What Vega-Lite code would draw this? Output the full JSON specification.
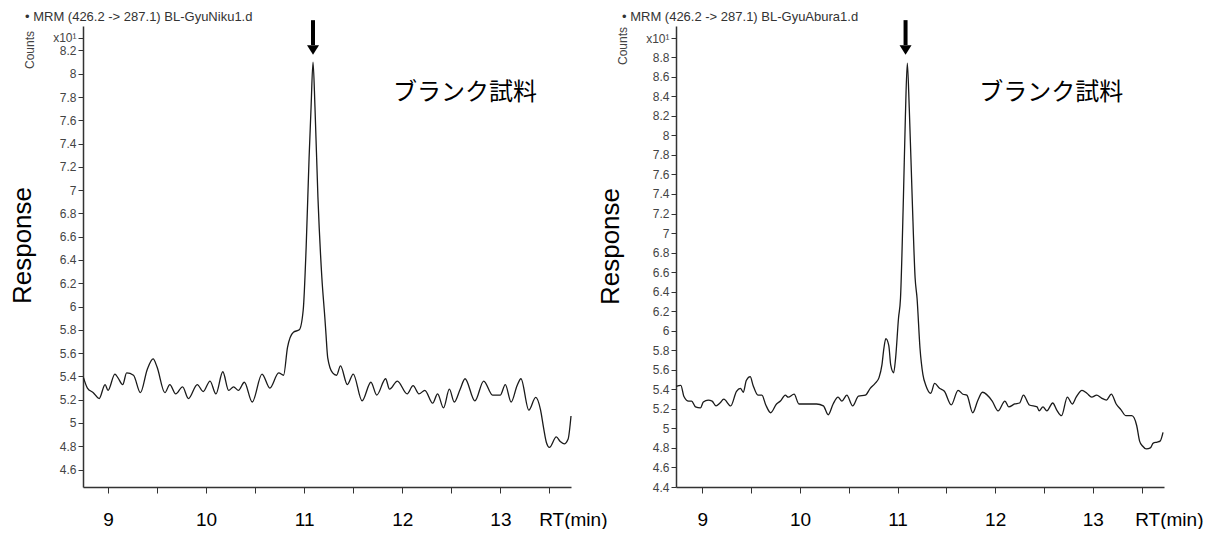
{
  "$schema": "https://vega.github.io/schema/vega-lite/v6.json",
  "background": "white",
  "padding": {"left": 9, "top": 11, "right": 14, "bottom": 0},
  "config": {
    "font": "Liberation Sans",
    "view": {"stroke": null},
    "axis": {"grid": false, "domainColor": "#333", "tickColor": "#333", "domainWidth": 1.5, "tickWidth": 1}
  },
  "bounds": "flush",
  "spacing": 105,
  "datasets": {
    "traceL": [
      {"rt": 8.75, "v": 5.39}, {"rt": 8.79, "v": 5.30}, {"rt": 8.85, "v": 5.26}, {"rt": 8.91, "v": 5.21}, {"rt": 8.97, "v": 5.33},
      {"rt": 9.00, "v": 5.28}, {"rt": 9.07, "v": 5.42}, {"rt": 9.10, "v": 5.39}, {"rt": 9.15, "v": 5.33}, {"rt": 9.19, "v": 5.43},
      {"rt": 9.26, "v": 5.41}, {"rt": 9.33, "v": 5.26}, {"rt": 9.40, "v": 5.46}, {"rt": 9.46, "v": 5.55}, {"rt": 9.50, "v": 5.48},
      {"rt": 9.58, "v": 5.26}, {"rt": 9.63, "v": 5.33}, {"rt": 9.69, "v": 5.25}, {"rt": 9.76, "v": 5.31}, {"rt": 9.82, "v": 5.21},
      {"rt": 9.91, "v": 5.33}, {"rt": 9.97, "v": 5.27}, {"rt": 10.04, "v": 5.36}, {"rt": 10.10, "v": 5.25}, {"rt": 10.17, "v": 5.44},
      {"rt": 10.23, "v": 5.28}, {"rt": 10.28, "v": 5.31}, {"rt": 10.33, "v": 5.28}, {"rt": 10.39, "v": 5.35}, {"rt": 10.47, "v": 5.18},
      {"rt": 10.57, "v": 5.42}, {"rt": 10.65, "v": 5.30}, {"rt": 10.74, "v": 5.43}, {"rt": 10.79, "v": 5.41}, {"rt": 10.83, "v": 5.65},
      {"rt": 10.89, "v": 5.78}, {"rt": 10.95, "v": 5.80}, {"rt": 10.99, "v": 5.97}, {"rt": 11.02, "v": 6.51}, {"rt": 11.05, "v": 7.28},
      {"rt": 11.07, "v": 7.71}, {"rt": 11.09, "v": 8.10}, {"rt": 11.11, "v": 7.71}, {"rt": 11.14, "v": 6.94}, {"rt": 11.18, "v": 6.25},
      {"rt": 11.21, "v": 5.91}, {"rt": 11.22, "v": 5.79}, {"rt": 11.24, "v": 5.56}, {"rt": 11.29, "v": 5.43}, {"rt": 11.33, "v": 5.41},
      {"rt": 11.37, "v": 5.49}, {"rt": 11.44, "v": 5.33}, {"rt": 11.50, "v": 5.42}, {"rt": 11.59, "v": 5.19}, {"rt": 11.68, "v": 5.35},
      {"rt": 11.74, "v": 5.24}, {"rt": 11.83, "v": 5.38}, {"rt": 11.87, "v": 5.29}, {"rt": 11.95, "v": 5.36}, {"rt": 12.05, "v": 5.25},
      {"rt": 12.11, "v": 5.32}, {"rt": 12.17, "v": 5.25}, {"rt": 12.23, "v": 5.28}, {"rt": 12.31, "v": 5.17}, {"rt": 12.36, "v": 5.25},
      {"rt": 12.42, "v": 5.13}, {"rt": 12.48, "v": 5.29}, {"rt": 12.53, "v": 5.18}, {"rt": 12.59, "v": 5.29}, {"rt": 12.64, "v": 5.38},
      {"rt": 12.74, "v": 5.19}, {"rt": 12.83, "v": 5.36}, {"rt": 12.92, "v": 5.24}, {"rt": 13.00, "v": 5.24}, {"rt": 13.05, "v": 5.33},
      {"rt": 13.11, "v": 5.18}, {"rt": 13.17, "v": 5.32}, {"rt": 13.21, "v": 5.38}, {"rt": 13.29, "v": 5.11}, {"rt": 13.36, "v": 5.22},
      {"rt": 13.41, "v": 5.11}, {"rt": 13.44, "v": 4.96}, {"rt": 13.47, "v": 4.83}, {"rt": 13.50, "v": 4.79}, {"rt": 13.57, "v": 4.88},
      {"rt": 13.61, "v": 4.84}, {"rt": 13.65, "v": 4.82}, {"rt": 13.69, "v": 4.86}, {"rt": 13.72, "v": 5.06}
    ],
    "traceR": [
      {"rt": 8.73, "v": 5.43}, {"rt": 8.78, "v": 5.44}, {"rt": 8.81, "v": 5.33}, {"rt": 8.86, "v": 5.28}, {"rt": 8.89, "v": 5.28},
      {"rt": 8.93, "v": 5.22}, {"rt": 8.98, "v": 5.21}, {"rt": 9.01, "v": 5.27}, {"rt": 9.06, "v": 5.29}, {"rt": 9.10, "v": 5.28},
      {"rt": 9.14, "v": 5.23}, {"rt": 9.18, "v": 5.26}, {"rt": 9.22, "v": 5.30}, {"rt": 9.29, "v": 5.23}, {"rt": 9.35, "v": 5.38},
      {"rt": 9.39, "v": 5.41}, {"rt": 9.42, "v": 5.37}, {"rt": 9.45, "v": 5.49}, {"rt": 9.49, "v": 5.53}, {"rt": 9.52, "v": 5.44},
      {"rt": 9.57, "v": 5.34}, {"rt": 9.61, "v": 5.34}, {"rt": 9.65, "v": 5.24}, {"rt": 9.70, "v": 5.16}, {"rt": 9.76, "v": 5.25},
      {"rt": 9.80, "v": 5.28}, {"rt": 9.85, "v": 5.34}, {"rt": 9.88, "v": 5.32}, {"rt": 9.94, "v": 5.35}, {"rt": 9.99, "v": 5.25},
      {"rt": 10.04, "v": 5.25}, {"rt": 10.10, "v": 5.25}, {"rt": 10.17, "v": 5.25}, {"rt": 10.24, "v": 5.23}, {"rt": 10.29, "v": 5.14},
      {"rt": 10.34, "v": 5.25}, {"rt": 10.39, "v": 5.32}, {"rt": 10.43, "v": 5.28}, {"rt": 10.48, "v": 5.34}, {"rt": 10.54, "v": 5.23},
      {"rt": 10.60, "v": 5.33}, {"rt": 10.67, "v": 5.34}, {"rt": 10.72, "v": 5.41}, {"rt": 10.77, "v": 5.46}, {"rt": 10.81, "v": 5.52},
      {"rt": 10.84, "v": 5.65}, {"rt": 10.86, "v": 5.82}, {"rt": 10.88, "v": 5.92}, {"rt": 10.91, "v": 5.85}, {"rt": 10.93, "v": 5.65},
      {"rt": 10.96, "v": 5.57}, {"rt": 10.98, "v": 5.72}, {"rt": 11.01, "v": 6.13}, {"rt": 11.03, "v": 6.33}, {"rt": 11.06, "v": 7.36},
      {"rt": 11.08, "v": 8.18}, {"rt": 11.10, "v": 8.74}, {"rt": 11.12, "v": 8.28}, {"rt": 11.15, "v": 7.36}, {"rt": 11.18, "v": 6.54},
      {"rt": 11.20, "v": 6.33}, {"rt": 11.23, "v": 5.82}, {"rt": 11.26, "v": 5.55}, {"rt": 11.29, "v": 5.44}, {"rt": 11.34, "v": 5.36},
      {"rt": 11.38, "v": 5.46}, {"rt": 11.43, "v": 5.41}, {"rt": 11.48, "v": 5.38}, {"rt": 11.55, "v": 5.24}, {"rt": 11.62, "v": 5.39},
      {"rt": 11.67, "v": 5.35}, {"rt": 11.71, "v": 5.34}, {"rt": 11.77, "v": 5.16}, {"rt": 11.82, "v": 5.28}, {"rt": 11.87, "v": 5.37},
      {"rt": 11.97, "v": 5.28}, {"rt": 12.03, "v": 5.18}, {"rt": 12.10, "v": 5.28}, {"rt": 12.14, "v": 5.22}, {"rt": 12.20, "v": 5.25},
      {"rt": 12.25, "v": 5.26}, {"rt": 12.29, "v": 5.34}, {"rt": 12.35, "v": 5.24}, {"rt": 12.43, "v": 5.22}, {"rt": 12.45, "v": 5.18},
      {"rt": 12.49, "v": 5.22}, {"rt": 12.53, "v": 5.18}, {"rt": 12.59, "v": 5.26}, {"rt": 12.63, "v": 5.19}, {"rt": 12.68, "v": 5.13},
      {"rt": 12.74, "v": 5.32}, {"rt": 12.79, "v": 5.25}, {"rt": 12.83, "v": 5.32}, {"rt": 12.89, "v": 5.39}, {"rt": 12.94, "v": 5.36},
      {"rt": 12.99, "v": 5.32}, {"rt": 13.04, "v": 5.34}, {"rt": 13.09, "v": 5.31}, {"rt": 13.14, "v": 5.29}, {"rt": 13.19, "v": 5.35},
      {"rt": 13.24, "v": 5.25}, {"rt": 13.29, "v": 5.19}, {"rt": 13.34, "v": 5.13}, {"rt": 13.40, "v": 5.13}, {"rt": 13.45, "v": 5.03},
      {"rt": 13.48, "v": 4.87}, {"rt": 13.51, "v": 4.82}, {"rt": 13.55, "v": 4.79}, {"rt": 13.59, "v": 4.80}, {"rt": 13.62, "v": 4.85},
      {"rt": 13.66, "v": 4.86}, {"rt": 13.69, "v": 4.87}, {"rt": 13.72, "v": 4.96}
    ],
    "arrowL": [{"rt": 11.09, "top": 8.46, "base": 8.247, "head": 8.204}],
    "arrowR": [{"rt": 11.082, "top": 9.18, "base": 8.925, "head": 8.874}],
    "countsL": [{"rt": 8.204, "v": 8.204, "label": "Counts"}],
    "countsR": [{"rt": 8.188, "v": 8.915, "label": "Counts"}],
    "sampleL": [{"rt": 12.64, "v": 7.834, "label": "ブランク試料"}],
    "sampleR": [{"rt": 12.575, "v": 8.434, "label": "ブランク試料"}]
  },
  "hconcat": [
    {
      "width": 488,
      "height": 461,
      "title": {"text": "• MRM (426.2 -> 287.1) BL-GyuNiku1.d", "anchor": "start", "frame": "group", "dx": -58, "fontSize": 13, "fontWeight": "normal", "color": "#333", "offset": -6},
      "layer": [
        {
          "data": {"name": "traceL"},
          "mark": {"type": "line", "color": "#1a1a1a", "strokeWidth": 1.3, "interpolate": "monotone"},
          "encoding": {
            "x": {"field": "rt", "type": "quantitative", "scale": {"domain": [8.745, 13.72], "nice": false, "zero": false},
              "axis": {"values": [9, 9.5, 10, 10.5, 11, 11.5, 12, 12.5, 13, 13.5], "tickCount": 50, "labelExpr": "datum.value % 1 === 0 ? format(datum.value, 'd') : ''",
                "title": "RT(min)", "titleX": 524, "titleY": 23, "titleAlign": "right", "titleBaseline": "top", "titleFontSize": 19, "titleFontWeight": "normal", "titleColor": "black",
                "labelFontSize": 19, "labelColor": "black", "tickSize": 6, "labelPadding": 17, "labelFlush": false, "labelOverlap": false}},
            "y": {"field": "v", "type": "quantitative", "scale": {"domain": [4.45, 8.41], "nice": false, "zero": false},
              "axis": {"values": [4.6, 4.8, 5, 5.2, 5.4, 5.6, 5.8, 6, 6.2, 6.4, 6.6, 6.8, 7, 7.2, 7.4, 7.6, 7.8, 8, 8.2, 8.31], "tickCount": 50,
                "labelExpr": "datum.value > 8.25 ? 'x10¹' : format(datum.value, '~g')",
                "title": "Response", "titleFontSize": 26, "titleFontWeight": "normal", "titleColor": "black", "titleX": -61, "titleY": 219, "titleAngle": 270, "titleAlign": "center", "titleBaseline": "middle",
                "labelFontSize": 12, "labelColor": "#444", "tickSize": 5, "labelPadding": 2, "labelOverlap": false, "labelFlush": false}}
          }
        },
        {
          "data": {"name": "arrowL"},
          "mark": {"type": "rule", "color": "black", "strokeWidth": 4},
          "encoding": {
            "x": {"field": "rt", "type": "quantitative", "scale": {"domain": [8.745, 13.72], "nice": false, "zero": false}},
            "y": {"field": "top", "type": "quantitative", "scale": {"domain": [4.45, 8.41], "nice": false, "zero": false}},
            "y2": {"field": "base"}
          }
        },
        {
          "data": {"name": "arrowL"},
          "mark": {"type": "point", "shape": "M-1,-0.8L1,-0.8L0,0.8Z", "filled": true, "size": 144, "color": "black", "opacity": 1},
          "encoding": {
            "x": {"field": "rt", "type": "quantitative", "scale": {"domain": [8.745, 13.72], "nice": false, "zero": false}},
            "y": {"field": "head", "type": "quantitative", "scale": {"domain": [4.45, 8.41], "nice": false, "zero": false}}
          }
        },
        {
          "data": {"name": "countsL"},
          "mark": {"type": "text", "angle": 270, "fontSize": 12, "color": "#444", "align": "center", "baseline": "middle"},
          "encoding": {
            "x": {"field": "rt", "type": "quantitative", "scale": {"domain": [8.745, 13.72], "nice": false, "zero": false}},
            "y": {"field": "v", "type": "quantitative", "scale": {"domain": [4.45, 8.41], "nice": false, "zero": false}},
            "text": {"field": "label"}
          }
        },
        {
          "data": {"name": "sampleL"},
          "mark": {"type": "text", "font": "Noto Sans CJK JP", "fontSize": 24, "color": "black", "align": "center", "baseline": "middle"},
          "encoding": {
            "x": {"field": "rt", "type": "quantitative", "scale": {"domain": [8.745, 13.72], "nice": false, "zero": false}},
            "y": {"field": "v", "type": "quantitative", "scale": {"domain": [4.45, 8.41], "nice": false, "zero": false}},
            "text": {"field": "label"}
          }
        }
      ]
    },
    {
      "width": 488,
      "height": 461,
      "title": {"text": "• MRM (426.2 -> 287.1) BL-GyuAbura1.d", "anchor": "start", "frame": "group", "dx": -54, "fontSize": 13, "fontWeight": "normal", "color": "#333", "offset": -6},
      "layer": [
        {
          "data": {"name": "traceR"},
          "mark": {"type": "line", "color": "#1a1a1a", "strokeWidth": 1.3, "interpolate": "monotone"},
          "encoding": {
            "x": {"field": "rt", "type": "quantitative", "scale": {"domain": [8.73, 13.73], "nice": false, "zero": false},
              "axis": {"values": [9, 9.5, 10, 10.5, 11, 11.5, 12, 12.5, 13, 13.5], "tickCount": 50, "labelExpr": "datum.value % 1 === 0 ? format(datum.value, 'd') : ''",
                "title": "RT(min)", "titleX": 527, "titleY": 23, "titleAlign": "right", "titleBaseline": "top", "titleFontSize": 19, "titleFontWeight": "normal", "titleColor": "black",
                "labelFontSize": 19, "labelColor": "black", "tickSize": 6, "labelPadding": 17, "labelFlush": false, "labelOverlap": false}},
            "y": {"field": "v", "type": "quantitative", "scale": {"domain": [4.4, 9.12], "nice": false, "zero": false},
              "axis": {"values": [4.4, 4.6, 4.8, 5, 5.2, 5.4, 5.6, 5.8, 6, 6.2, 6.4, 6.6, 6.8, 7, 7.2, 7.4, 7.6, 7.8, 8, 8.2, 8.4, 8.6, 8.8, 8.997], "tickCount": 50,
                "labelExpr": "datum.value > 8.9 ? 'x10¹' : format(datum.value, '~g')",
                "title": "Response", "titleFontSize": 26, "titleFontWeight": "normal", "titleColor": "black", "titleX": -66, "titleY": 220, "titleAngle": 270, "titleAlign": "center", "titleBaseline": "middle",
                "labelFontSize": 12, "labelColor": "#444", "tickSize": 5, "labelPadding": 2, "labelOverlap": false, "labelFlush": false}}
          }
        },
        {
          "data": {"name": "arrowR"},
          "mark": {"type": "rule", "color": "black", "strokeWidth": 4},
          "encoding": {
            "x": {"field": "rt", "type": "quantitative", "scale": {"domain": [8.73, 13.73], "nice": false, "zero": false}},
            "y": {"field": "top", "type": "quantitative", "scale": {"domain": [4.4, 9.12], "nice": false, "zero": false}},
            "y2": {"field": "base"}
          }
        },
        {
          "data": {"name": "arrowR"},
          "mark": {"type": "point", "shape": "M-1,-0.8L1,-0.8L0,0.8Z", "filled": true, "size": 144, "color": "black", "opacity": 1},
          "encoding": {
            "x": {"field": "rt", "type": "quantitative", "scale": {"domain": [8.73, 13.73], "nice": false, "zero": false}},
            "y": {"field": "head", "type": "quantitative", "scale": {"domain": [4.4, 9.12], "nice": false, "zero": false}}
          }
        },
        {
          "data": {"name": "countsR"},
          "mark": {"type": "text", "angle": 270, "fontSize": 12, "color": "#444", "align": "center", "baseline": "middle"},
          "encoding": {
            "x": {"field": "rt", "type": "quantitative", "scale": {"domain": [8.73, 13.73], "nice": false, "zero": false}},
            "y": {"field": "v", "type": "quantitative", "scale": {"domain": [4.4, 9.12], "nice": false, "zero": false}},
            "text": {"field": "label"}
          }
        },
        {
          "data": {"name": "sampleR"},
          "mark": {"type": "text", "font": "Noto Sans CJK JP", "fontSize": 24, "color": "black", "align": "center", "baseline": "middle"},
          "encoding": {
            "x": {"field": "rt", "type": "quantitative", "scale": {"domain": [8.73, 13.73], "nice": false, "zero": false}},
            "y": {"field": "v", "type": "quantitative", "scale": {"domain": [4.4, 9.12], "nice": false, "zero": false}},
            "text": {"field": "label"}
          }
        }
      ]
    }
  ]
}
